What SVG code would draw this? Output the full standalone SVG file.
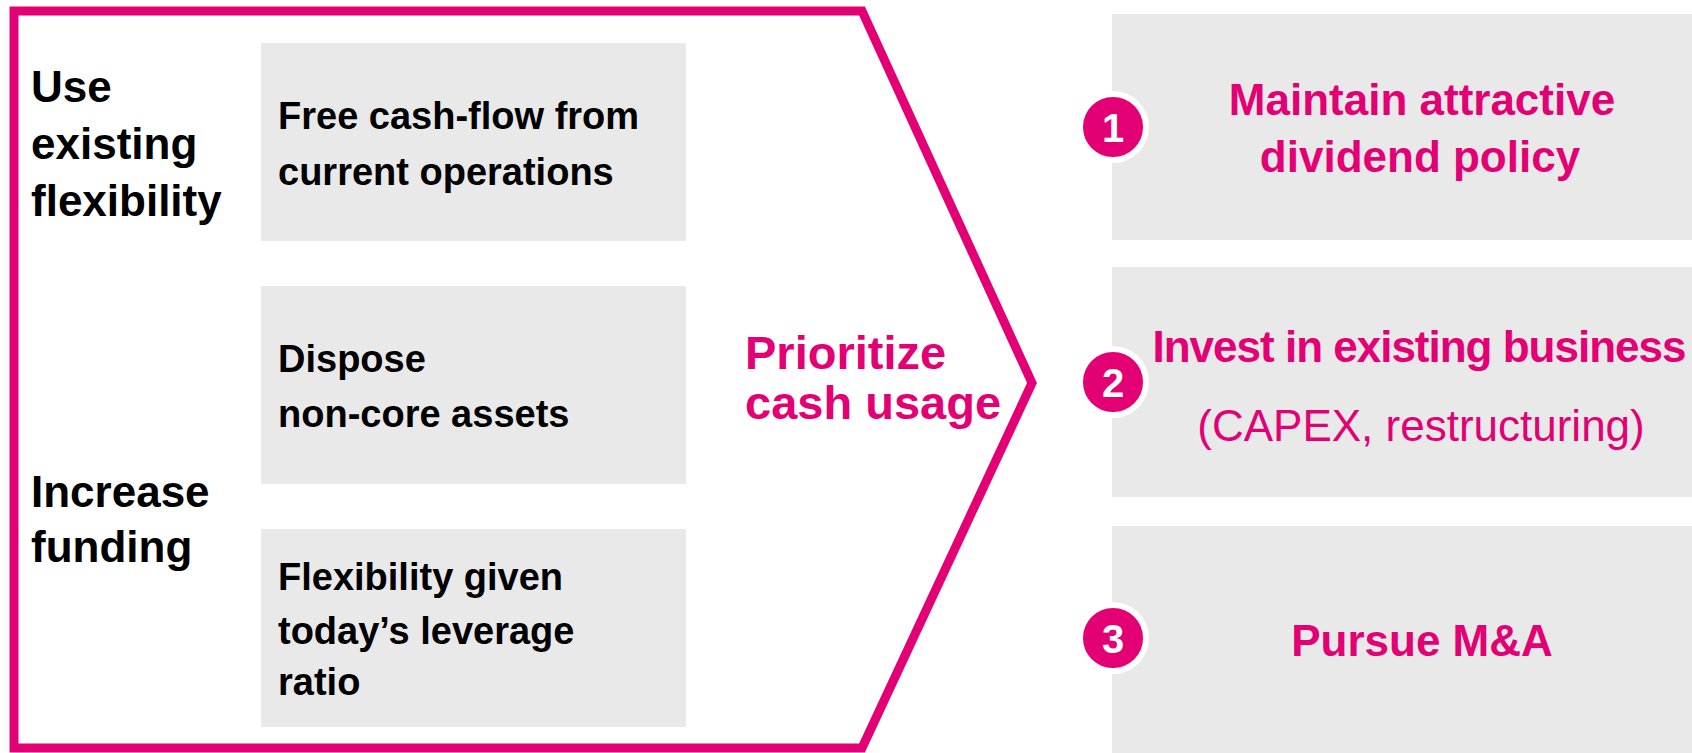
<svg xmlns="http://www.w3.org/2000/svg" width="1692" height="753" viewBox="0 0 1692 753">
<style>
.box{fill:#E9E9E9}
.lbl{font-family:"Liberation Sans",Arial,sans-serif;font-weight:bold;font-size:44px;fill:#000}
.txt{font-family:"Liberation Sans",Arial,sans-serif;font-weight:bold;font-size:38px;fill:#000}
.pk{font-family:"Liberation Sans",Arial,sans-serif;font-weight:bold;font-size:44px;fill:#E20074;text-anchor:middle}
.pkr{font-family:"Liberation Sans",Arial,sans-serif;font-weight:normal;font-size:44px;fill:#E20074;text-anchor:middle}
.num{fill:#E20074;stroke:#fff;stroke-width:6}
.numt{font-family:"Liberation Sans",Arial,sans-serif;font-weight:bold;font-size:40px;fill:#fff;text-anchor:middle}
</style>
<rect width="1692" height="753" fill="#fff"/>
<g id="connectors">
<polygon points="14,11 862,11 1032,383 862,748 14,748" fill="none" stroke="#E20074" stroke-width="9" stroke-linejoin="miter"/>
</g>
<g id="label-use">
<text class="lbl" x="31" y="102">Use</text>
<text class="lbl" x="31" y="159">existing</text>
<text class="lbl" x="31" y="216">flexibility</text>
</g>
<g id="label-increase">
<text class="lbl" x="31" y="507">Increase</text>
<text class="lbl" x="31" y="562">funding</text>
</g>
<g id="box-fcf">
<rect class="box" x="261" y="43" width="425" height="198"/>
<text class="txt" x="278" y="129">Free cash-flow from</text>
<text class="txt" x="278" y="185">current operations</text>
</g>
<g id="box-dispose">
<rect class="box" x="261" y="286" width="425" height="198"/>
<text class="txt" x="278" y="372">Dispose</text>
<text class="txt" x="278" y="427">non-core assets</text>
</g>
<g id="box-leverage">
<rect class="box" x="261" y="529" width="425" height="198"/>
<text class="txt" x="278" y="590">Flexibility given</text>
<text class="txt" x="278" y="644">today’s leverage</text>
<text class="txt" x="278" y="695">ratio</text>
</g>
<g id="prioritize">
<text style="font-family:'Liberation Sans',Arial,sans-serif;font-weight:bold;font-size:47px;fill:#E20074" x="745" y="369">Prioritize</text>
<text style="font-family:'Liberation Sans',Arial,sans-serif;font-weight:bold;font-size:47px;fill:#E20074" x="745" y="419">cash usage</text>
</g>
<g id="option-1">
<rect class="box" x="1112" y="14" width="580" height="226"/>
<circle class="num" cx="1113" cy="127" r="33"/>
<text class="numt" x="1113" y="142">1</text>
<text class="pk" x="1422" y="115">Maintain attractive</text>
<text class="pk" x="1420" y="172">dividend policy</text>
</g>
<g id="option-2">
<rect class="box" x="1112" y="267" width="580" height="230"/>
<circle class="num" cx="1113" cy="382" r="33"/>
<text class="numt" x="1113" y="397">2</text>
<text class="pk" x="1419" y="362" letter-spacing="-1">Invest in existing business</text>
<text class="pkr" x="1421" y="441">(CAPEX, restructuring)</text>
</g>
<g id="option-3">
<rect class="box" x="1112" y="526" width="580" height="227"/>
<circle class="num" cx="1113" cy="638" r="33"/>
<text class="numt" x="1113" y="653">3</text>
<text class="pk" x="1422" y="656">Pursue M&amp;A</text>
</g>
</svg>
